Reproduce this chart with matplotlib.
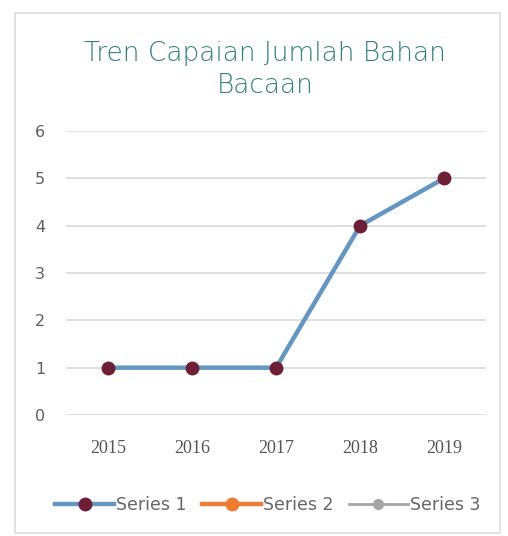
import matplotlib.pyplot as plt
from matplotlib.patches import Rectangle

# Data
tahun = ['2015', '2016', '2017', '2018', '2019']
series1 = [1, 1, 1, 4, 5]
series2 = []
series3 = []
yticks = [0, 1, 2, 3, 4, 5, 6]

fig = plt.figure(figsize=(5.08, 5.36), dpi=100)
fig.patch.set_facecolor('white')

# Bingkai chart
fig.patches.append(Rectangle((0.03, 0.006), 0.955, 0.97, transform=fig.transFigure,
                             fill=False, edgecolor='#dddddd', linewidth=1.2))

ax = fig.add_axes([0.13, 0.2257, 0.827, 0.53])
x = list(range(len(tahun)))
ax.plot(x, series1, color='#6496c2', linewidth=3.2, marker='o', markersize=9,
        markerfacecolor='#6e1f35', markeredgecolor='#6e1f35', label='Series 1', zorder=3)
ax.plot(series2, color='#ed7d31', linewidth=3.2, marker='o', markersize=9,
        markerfacecolor='#ed7d31', label='Series 2')
ax.plot(series3, color='#a5a5a5', linewidth=2, marker='o', markersize=7,
        markerfacecolor='#a5a5a5', label='Series 3')

ax.set_xlim(-0.5, len(tahun) - 0.5)
ax.set_ylim(0, 6)
ax.set_yticks(yticks)
ax.set_xticks(x)
ax.set_xticklabels(tahun, fontfamily='Liberation Serif', fontsize=13, color='#555555')
ax.tick_params(axis='y', labelsize=11.5, colors='#606060', length=0, pad=15)
ax.tick_params(axis='x', length=0, pad=18)
ax.grid(axis='y', color='#d9d9d9', linewidth=1.2)
ax.set_axisbelow(True)
for s in ax.spines.values():
    s.set_visible(False)

fig.text(0.522, 0.871, 'Tren Capaian Jumlah Bahan\nBacaan', ha='center', va='center',
         fontsize=19, color='#2f7f80', fontfamily='DejaVu Sans', fontweight='light',
         linespacing=1.35)

fig.legend(loc='center', bbox_to_anchor=(0.527, 0.058), ncol=3, frameon=False,
           fontsize=12.5, handlelength=3.4, handletextpad=0.1, columnspacing=0.9,
           labelcolor='#666666')

fig.savefig('out.png', dpi=100)
